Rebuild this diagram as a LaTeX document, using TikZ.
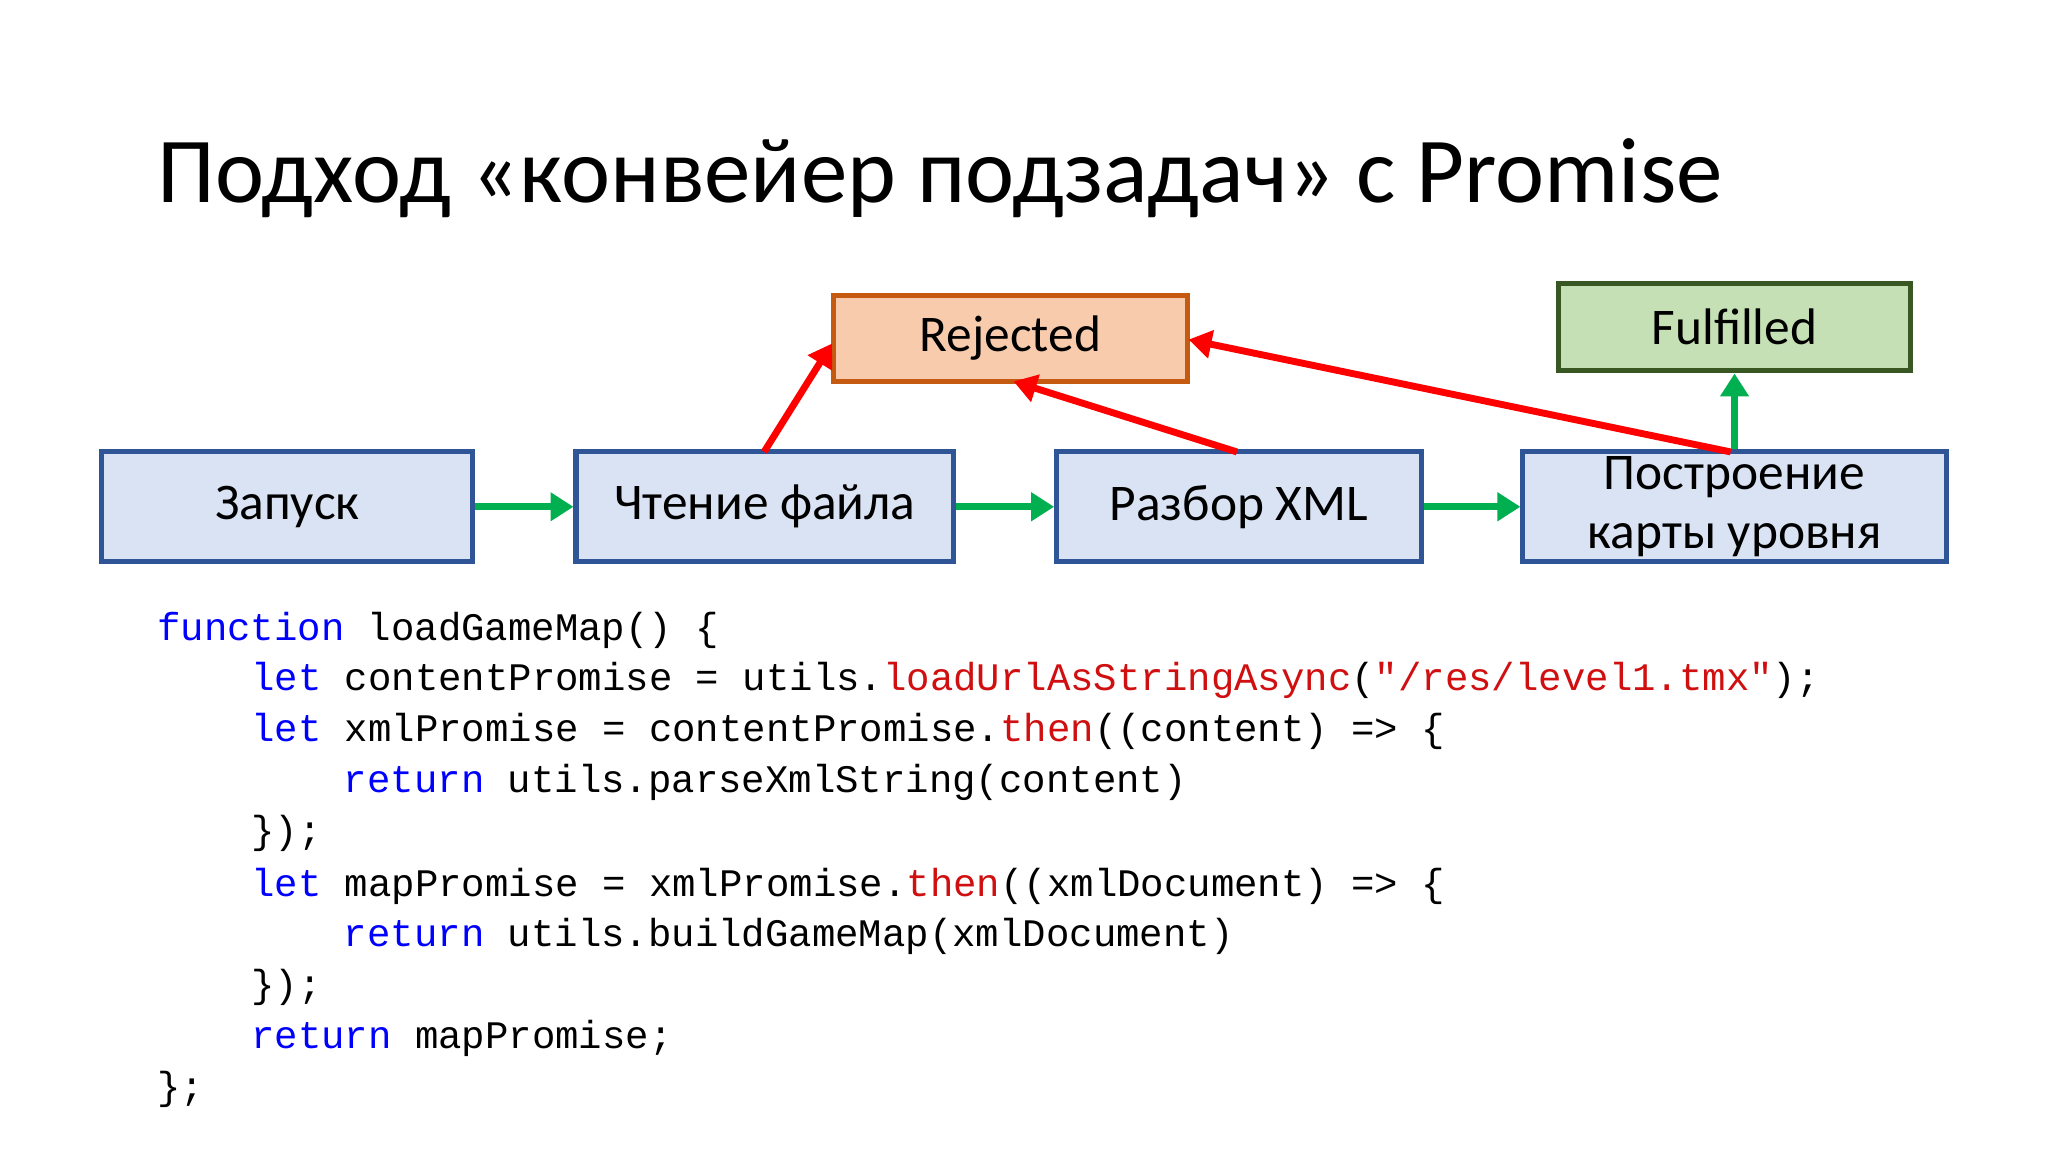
\documentclass[tikz,border=0pt]{standalone}
\usepackage{fontspec}
\setmainfont{Carlito}
\newfontfamily\codefont{Liberation Mono}
\usetikzlibrary{arrows.meta}
\definecolor{bfill}{HTML}{DAE3F3}
\definecolor{bdraw}{HTML}{2F5597}
\definecolor{rfill}{HTML}{F8CBAD}
\definecolor{rdraw}{HTML}{C55A11}
\definecolor{gfill}{HTML}{C5E0B4}
\definecolor{gdraw}{HTML}{385723}
\definecolor{garrow}{HTML}{00B050}
\definecolor{kw}{HTML}{0000FF}
\definecolor{fn}{HTML}{D01010}
\begin{document}
\begin{tikzpicture}[x=0.02cm,y=-0.02cm,
  box/.style={draw=bdraw,fill=bfill,line width=2.2pt,inner sep=0pt,font=\fontsize{22.4}{26}\selectfont,align=center},
  gar/.style={draw=garrow,line width=3pt,-{Triangle[length=10pt,width=12pt]}},
  rar/.style={draw=red,line width=3pt,-{Triangle[length=10pt,width=12pt]}},
  code/.style={anchor=base west,inner sep=0pt,font=\codefont\fontsize{17}{20}\selectfont}]
\useasboundingbox[fill=white] (0,0) rectangle (1568,882);
\node[anchor=base west,inner sep=0pt,font=\fontsize{40.5}{44}\selectfont] (title) at (120,155) {Подход «конвейер подзадач» с Promise};
\node[box,minimum width=284*0.02cm,minimum height=84*0.02cm] (a) at (220,388) {Запуск};
\node[box,minimum width=289*0.02cm,minimum height=84*0.02cm] (b) at (585.5,388) {Чтение файла};
\node[box,minimum width=279*0.02cm,minimum height=84*0.02cm] (c) at (948.5,388) {Разбор XML};
\node[box,minimum width=324*0.02cm,minimum height=84*0.02cm,font=\fontsize{22.4}{26}\selectfont] (d) at (1328,388) {Построение\\[0pt]карты уровня};
\node[box,draw=rdraw,fill=rfill,minimum width=271*0.02cm,minimum height=66*0.02cm] (r) at (773.5,259) {Rejected};
\node[box,draw=gdraw,fill=gfill,minimum width=270*0.02cm,minimum height=67*0.02cm] (f) at (1328,250.5) {Fulfilled};
\draw[gar] (a.east) -- (b.west);
\draw[gar] (b.east) -- (c.west);
\draw[gar] (c.east) -- (d.west);
\draw[gar] (d.north) -- (f.south);
\coordinate (b1) at (585,346);
\coordinate (c1) at (947,346);
\coordinate (d1) at (1325,346);
\coordinate (r1) at (637,263);
\draw[rar] (b1) -- (r1);
\draw[rar] (c1) -- (776,292);
\draw[rar] (d1) -- (910,260);
\node[code] (l1) at (120,490) {\textcolor{kw}{function} loadGameMap() \{};
\node[code] (l2) at (192,529) {\textcolor{kw}{let} contentPromise = utils.\textcolor{fn}{loadUrlAsStringAsync}(\textcolor{fn}{"/res/level1.tmx"});};
\node[code] (l3) at (192,568) {\textcolor{kw}{let} xmlPromise = contentPromise.\textcolor{fn}{then}((content) => \{};
\node[code] (l4) at (263,607) {\textcolor{kw}{return} utils.parseXmlString(content)};
\node[code] (l5) at (192,646) {\});};
\node[code] (l6) at (192,686) {\textcolor{kw}{let} mapPromise = xmlPromise.\textcolor{fn}{then}((xmlDocument) => \{};
\node[code] (l7) at (263,725) {\textcolor{kw}{return} utils.buildGameMap(xmlDocument)};
\node[code] (l8) at (192,764) {\});};
\node[code] (l9) at (192,803) {\textcolor{kw}{return} mapPromise;};
\node[code] (l10) at (120,842) {\};};
\end{tikzpicture}
\end{document}
